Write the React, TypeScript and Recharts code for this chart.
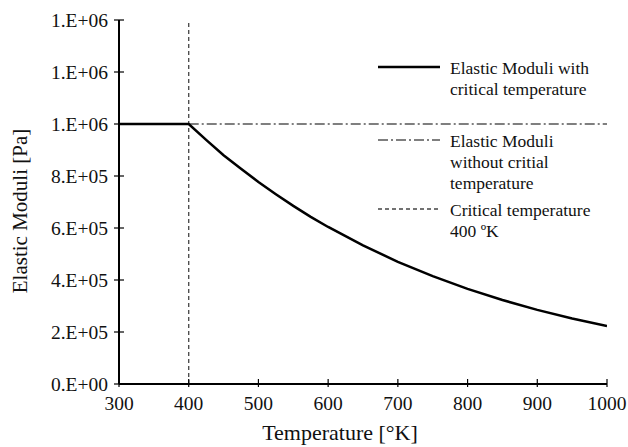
import { Legend, Line, LineChart, ReferenceLine, XAxis, YAxis } from 'recharts'

// temperature [°K] and elastic moduli [Pa]
const temps = [300, 350, 400, 425, 450, 475, 500, 525, 550, 575, 600, 650, 700, 750, 800, 850, 900, 950, 1000]
const withCritical = [
  1.0e6, 1.0e6, 1.0e6, 9.39e5, 8.8e5, 8.28e5, 7.77e5, 7.3e5, 6.85e5, 6.43e5, 6.04e5,
  5.33e5, 4.7e5, 4.15e5, 3.66e5, 3.23e5, 2.85e5, 2.52e5, 2.23e5,
]
const withoutTemps = [400, 1000]
const withoutCritical = [1.0e6, 1.0e6]
const criticalTemp = 400

const xTicks = [300, 400, 500, 600, 700, 800, 900, 1000]
const yTicks = [0, 2e5, 4e5, 6e5, 8e5, 1.0e6, 1.2e6, 1.4e6]

const legendItems = [
  { lines: ['Elastic Moduli with', 'critical temperature'], dash: undefined, color: '#000', width: 2.5 },
  { lines: ['Elastic Moduli', 'without critial', 'temperature'], dash: '10 3 2 3', color: '#555', width: 1.3 },
  { lines: ['Critical temperature', '400 ºK'], dash: '4 3', color: '#444', width: 1.3 },
]

const critData = temps.map((t, i) => ({ t, e: withCritical[i] }))
const noCritData = withoutTemps.map((t, i) => ({ t, e: withoutCritical[i] }))

const FONT = "'Liberation Serif', 'Times New Roman', Times, 'DejaVu Serif', serif"
const txt = { fontFamily: FONT, fill: '#111' }

const sci = (v: number) => {
  if (v === 0) return '0.E+00'
  const e = Math.floor(Math.log10(v))
  const m = Math.round(v / 10 ** e)
  return `${m}.E+${String(e).padStart(2, '0')}`
}

const YTick = ({ x, y, payload }: any) => (
  <g>
    <line x1={x + 6} x2={x + 16} y1={y} y2={y} stroke="#000" strokeWidth={1.2} />
    <text x={x} y={y} dy="0.35em" textAnchor="end" style={{ ...txt, fontSize: 19.5 }}>
      {sci(payload.value)}
    </text>
  </g>
)

const XTick = ({ x, y, payload }: any) => (
  <g>
    <line x1={x} x2={x} y1={y - 5} y2={y + 3} stroke="#000" strokeWidth={1.2} />
    <text x={x} y={y + 26} textAnchor="middle" style={{ ...txt, fontSize: 19.5 }}>
      {payload.value}
    </text>
  </g>
)

const YTitle = ({ viewBox }: any) => {
  const cx = viewBox.x + 27
  const cy = viewBox.y + viewBox.height / 2 + 9
  return (
    <text x={cx} y={cy} transform={`rotate(-90, ${cx}, ${cy})`} textAnchor="middle" style={{ ...txt, fontSize: 21 }}>
      Elastic Moduli [Pa]
    </text>
  )
}

const XTitle = ({ viewBox }: any) => (
  <text x={viewBox.x + viewBox.width / 2 - 23} y={440} textAnchor="middle" style={{ ...txt, fontSize: 22 }}>
    Temperature [°K]
  </text>
)

const renderLegend = () => {
  const tops = [17, 90, 159]
  return (
    <svg width={240} height={200} style={{ display: 'block' }}>
      {legendItems.map((it, i) => (
        <g key={i}>
          <line x1={8} x2={70} y1={tops[i]} y2={tops[i]} stroke={it.color} strokeWidth={it.width} strokeDasharray={it.dash} />
          {it.lines.map((l, j) => (
            <text key={j} x={80} y={tops[i] + 7 + j * 21} style={{ ...txt, fontSize: 17.5 }}>
              {l}
            </text>
          ))}
        </g>
      ))}
    </svg>
  )
}

export default function App() {
  return (
    <div style={{ position: 'absolute', left: 0, top: 0, background: '#fff', fontFamily: FONT }}>
      <LineChart width={628} height={447} margin={{ top: 20, right: 21, left: 0, bottom: 0 }}>
        <XAxis
          dataKey="t"
          type="number"
          domain={[300, 1000]}
          ticks={xTicks}
          height={63}
          tickSize={0}
          tickMargin={0}
          tickLine={false}
          tick={<XTick />}
          axisLine={{ stroke: '#000', strokeWidth: 2 }}
          allowDataOverflow
          label={<XTitle />}
        />
        <XAxis xAxisId="top" orientation="top" type="number" domain={[300, 1000]} height={0} tick={false} tickLine={false} axisLine={{ stroke: '#777', strokeWidth: 1 }} />
        <YAxis
          type="number"
          domain={[0, 1.4e6]}
          ticks={yTicks}
          width={119}
          tickSize={0}
          tickMargin={11}
          tickLine={false}
          tick={<YTick />}
          axisLine={{ stroke: '#000', strokeWidth: 2 }}
          allowDataOverflow
          label={<YTitle />}
        />
        <YAxis yAxisId="right" orientation="right" domain={[0, 1.4e6]} width={0} tick={false} tickLine={false} axisLine={{ stroke: '#000', strokeWidth: 1.2 }} />
        <ReferenceLine x={criticalTemp} stroke="#444" strokeWidth={1.3} strokeDasharray="4 3" />
        <Line
          data={noCritData}
          dataKey="e"
          type="linear"
          stroke="#555"
          strokeWidth={1.3}
          strokeDasharray="10 3 2 3"
          dot={false}
          isAnimationActive={false}
        />
        <Line
          data={critData}
          dataKey="e"
          type="linear"
          stroke="#000"
          strokeWidth={2.5}
          dot={false}
          isAnimationActive={false}
        />
        <Legend
          layout="horizontal"
          verticalAlign="middle"
          align="center"
          content={renderLegend}
          wrapperStyle={{ left: 370, top: 50, width: 240, height: 200 }}
        />
      </LineChart>
    </div>
  )
}
